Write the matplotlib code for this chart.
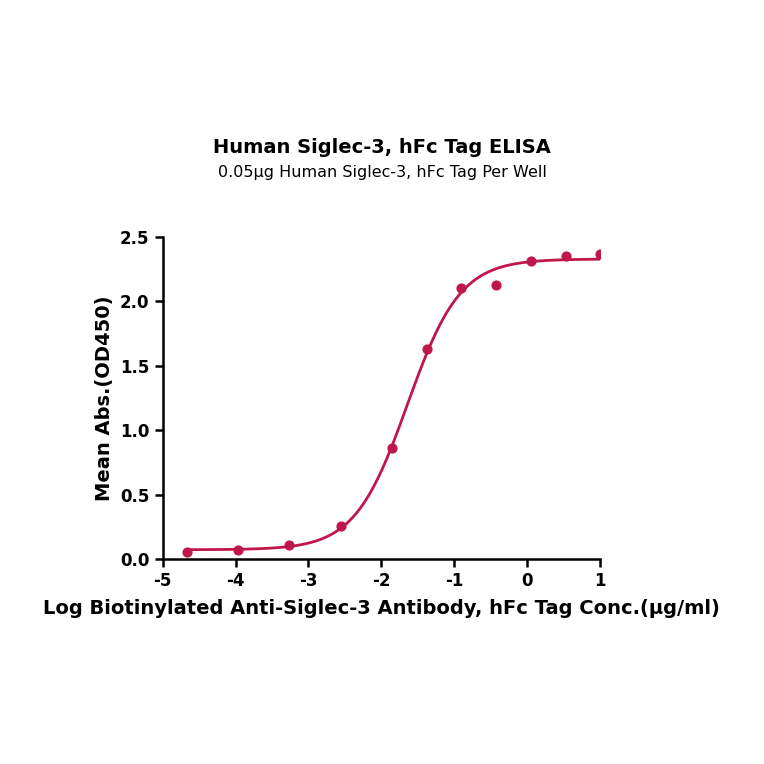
import numpy as np
import matplotlib
matplotlib.use("Agg")
import matplotlib.pyplot as plt

log_conc = [-4.66, -3.96, -3.26, -2.55, -1.85, -1.37, -0.91, -0.43, 0.05, 0.54, 1.0]
mean_abs = [0.06, 0.07, 0.11, 0.26, 0.86, 1.63, 2.10, 2.13, 2.31, 2.35, 2.37]
xticks = [-5, -4, -3, -2, -1, 0, 1]
yticks = [0.0, 0.5, 1.0, 1.5, 2.0, 2.5]

# 4PL fit via simple least squares on grid
x = np.array(log_conc); y = np.array(mean_abs)
best = None
for ec in np.linspace(-2.3, -1.2, 111):
    for h in np.linspace(0.6, 2.0, 71):
        s = 1 / (1 + 10 ** ((ec - x) * h))
        A = np.vstack([1 - s, s]).T
        coef, res, *_ = np.linalg.lstsq(A, y, rcond=None)
        r = np.sum((A @ coef - y) ** 2)
        if best is None or r < best[0]:
            best = (r, ec, h, coef)
_, ec, h, (bot, top) = best
xc = np.linspace(min(log_conc), max(log_conc), 300)
yc = bot + (top - bot) / (1 + 10 ** ((ec - xc) * h))

color = "#C0174A"
fig = plt.figure(figsize=(7.64, 7.64), dpi=100)
ax = fig.add_axes([0.213, 0.268, 0.572, 0.422])
ax.plot(xc, yc, color=color, lw=2)
ax.scatter(log_conc, mean_abs, color=color, s=40, zorder=3)
ax.set_xlim(-5, 1); ax.set_ylim(0, 2.5)
ax.set_xticks(xticks); ax.set_yticks(yticks)
ax.set_xticklabels([str(t) for t in xticks])
ax.set_yticklabels([f"{t:.1f}" for t in yticks])
for s in ["top", "right"]:
    ax.spines[s].set_visible(False)
for s in ["left", "bottom"]:
    ax.spines[s].set_linewidth(1.8)
ax.tick_params(width=1.8, length=6, labelsize=12)
for lab in ax.get_xticklabels() + ax.get_yticklabels():
    lab.set_fontweight("bold")
ax.set_xlabel("Log Biotinylated Anti-Siglec-3 Antibody, hFc Tag Conc.(μg/ml)", fontsize=14, fontweight="bold", labelpad=6)
ax.set_ylabel("Mean Abs.(OD450)", fontsize=14, fontweight="bold")
fig.text(0.5, 0.8, "Human Siglec-3, hFc Tag ELISA", ha="center", fontsize=14, fontweight="bold")
fig.text(0.5, 0.768, "0.05μg Human Siglec-3, hFc Tag Per Well", ha="center", fontsize=11.5)
fig.savefig("out.png", dpi=100)
